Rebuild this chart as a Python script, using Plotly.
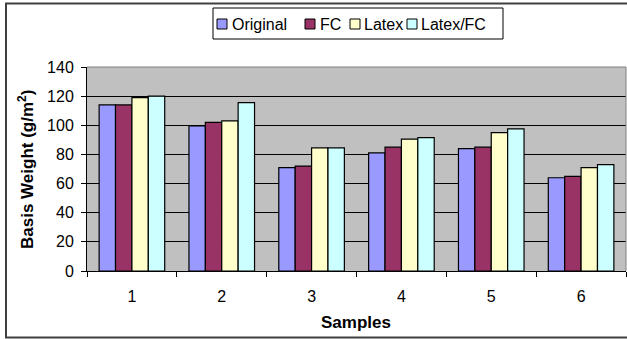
import plotly.graph_objects as go

samples = ["1", "2", "3", "4", "5", "6"]
original = [114, 99.5, 71, 81, 84, 64]
fc = [114, 102, 72, 85, 85, 65]
latex = [119, 103, 84.5, 90.5, 95, 71]
latex_fc = [120, 115.5, 84.5, 91.5, 97.5, 73]

series_names = ["Original", "FC", "Latex", "Latex/FC"]
series_values = [original, fc, latex, latex_fc]
series_colors = ["#9999FF", "#993366", "#FFFFCC", "#CCFFFF"]

W, H = 627, 339
L, R, T, B = 87, 1, 67, 68
PW, PH = W - L - R, H - T - B


def px(x):
    """Horizontal pixel position -> paper coordinate."""
    return (x - L) / PW


def py(y):
    """Vertical pixel position (from top) -> paper coordinate."""
    return (H - B - y) / PH


font = "Liberation Sans, Arial, sans-serif"

fig = go.Figure()
for name, vals, color in zip(series_names, series_values, series_colors):
    fig.add_trace(go.Bar(
        name=name, x=samples, y=vals,
        marker=dict(color=color, line=dict(color="black", width=1.2)),
    ))

shapes = [
    # gray frame on the top and right of the plot area
    dict(type="line", xref="paper", yref="paper", x0=0, x1=1, y0=1, y1=1,
         line=dict(color="#808080", width=1)),
    dict(type="line", xref="paper", yref="paper", x0=1, x1=1, y0=0, y1=1,
         line=dict(color="#808080", width=1)),
    # chart border
    dict(type="rect", xref="paper", yref="paper",
         x0=px(6), x1=px(660), y0=py(337.5), y1=py(3.5),
         line=dict(color="#404040", width=2), fillcolor="rgba(0,0,0,0)",
         layer="below"),
    # legend box
    dict(type="rect", xref="paper", yref="paper",
         x0=px(213), x1=px(503), y0=py(39), y1=py(8),
         line=dict(color="black", width=1), fillcolor="white"),
]
annotations = []

# legend entries: swatch left edge and label left edge (pixels)
legend_swatch_x = [217, 305, 350, 407]
legend_text_x = [230, 318, 362, 419]
legend_y = 24
for name, color, sx, tx in zip(series_names, series_colors,
                                legend_swatch_x, legend_text_x):
    shapes.append(dict(
        type="rect", xref="paper", yref="paper",
        x0=px(sx), x1=px(sx + 10), y0=py(legend_y + 5), y1=py(legend_y - 5),
        line=dict(color="black", width=1), fillcolor=color))
    annotations.append(dict(
        text=name, xref="paper", yref="paper", x=px(tx), y=py(legend_y),
        xanchor="left", yanchor="middle", showarrow=False,
        font=dict(family=font, size=16, color="black")))

# axis titles
annotations.append(dict(
    text="<b>Samples</b>", xref="paper", yref="paper",
    x=px(356), y=py(322), xanchor="center", yanchor="middle",
    showarrow=False, font=dict(family=font, size=17, color="black")))
annotations.append(dict(
    text="<b>Basis Weight (g/m<sup>2</sup>)</b>", xref="paper", yref="paper",
    x=px(26), y=py(170), xanchor="center", yanchor="middle", textangle=-90,
    showarrow=False, font=dict(family=font, size=17, color="black")))

fig.update_layout(
    width=W, height=H,
    margin=dict(l=L, r=R, t=T, b=B),
    paper_bgcolor="white",
    plot_bgcolor="#C0C0C0",
    barmode="group",
    bargap=0.27,
    bargroupgap=0,
    font=dict(family=font, size=16, color="black"),
    showlegend=False,
    xaxis=dict(
        type="category",
        tickson="boundaries",
        ticks="outside", ticklen=5, tickcolor="black",
        showline=True, linecolor="black", linewidth=1,
        showgrid=False,
        ticklabelstandoff=11,
        tickfont=dict(family=font, size=16),
    ),
    yaxis=dict(
        range=[0, 140],
        tickvals=[0, 20, 40, 60, 80, 100, 120, 140],
        ticks="outside", ticklen=5, tickcolor="black",
        showline=True, linecolor="black", linewidth=1,
        showgrid=True, gridcolor="black", gridwidth=1,
        zeroline=False,
        ticklabelstandoff=4,
        tickfont=dict(family=font, size=16),
    ),
    shapes=shapes,
    annotations=annotations,
)

fig.write_html("out.html")
